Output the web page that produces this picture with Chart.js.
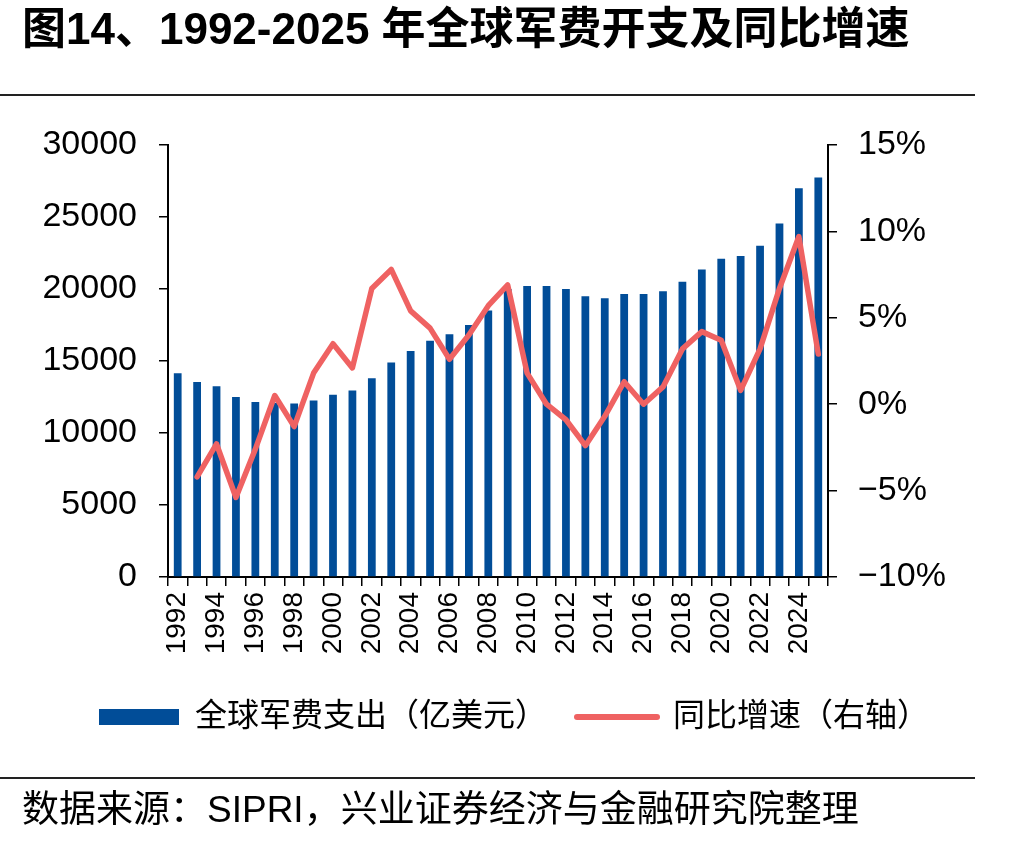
<!DOCTYPE html>
<html>
<head>
<meta charset="utf-8">
<script src="https://cdn.jsdelivr.net/npm/chart.js@4"></script>
<style>
  html, body { margin: 0; padding: 0; background: #fff; }
  #wrap { position: relative; width: 1028px; height: 843px; overflow: hidden; }
  #chart { position: absolute; left: 0; top: 0; }
  #title { position: absolute; left: 22px; top: 1px; line-height: 56px; font-size: 44px; font-weight: bold;
           font-family: "Liberation Sans", "Noto Sans CJK SC", sans-serif; color: #000; white-space: nowrap; }
  .rule { position: absolute; left: 0; width: 975px; height: 2px; background: #222; }
  #source { position: absolute; left: 22px; top: 788px; line-height: 44px; font-size: 37px;
            font-family: "Liberation Sans", "Noto Sans CJK SC", sans-serif; color: #000; white-space: nowrap; }
</style>
</head>
<body>
<div id="wrap">
  <canvas id="chart" width="1028" height="843"></canvas>
  <div id="title">图14、1992-2025 年全球军费开支及同比增速</div>
  <div class="rule" style="top:94px"></div>
  <div class="rule" style="top:777px"></div>
  <div id="source">数据来源：SIPRI，兴业证券经济与金融研究院整理</div>
</div>
<script>
// 年份
const years = ['1992','1993','1994','1995','1996','1997','1998','1999','2000','2001',
  '2002','2003','2004','2005','2006','2007','2008','2009','2010','2011',
  '2012','2013','2014','2015','2016','2017','2018','2019','2020','2021',
  '2022','2023','2024','2025'];

// 全球军费支出（亿美元）
const spending = [14150, 13550, 13250, 12500, 12150, 12100, 12050, 12250, 12650, 12950,
  13800, 14900, 15700, 16400, 16850, 17500, 18500, 20000, 20200, 20200,
  20000, 19500, 19350, 19650, 19650, 19850, 20500, 21350, 22100, 22300,
  23000, 24550, 27000, 27750];

// 同比增速（%），1992 无数据
const growth = [null, -4.2, -2.3, -5.4, -2.6, 0.5, -1.3, 1.8, 3.5, 2.1,
  6.7, 7.8, 5.4, 4.4, 2.6, 4.0, 5.7, 6.9, 1.8, 0.0,
  -0.9, -2.4, -0.7, 1.3, 0.0, 1.0, 3.2, 4.2, 3.7, 0.8,
  3.2, 6.7, 9.7, 2.9];

const seriesNames = ['全球军费支出（亿美元）', '同比增速（右轴）'];

const FONT = '"Liberation Sans", "Noto Sans CJK SC", sans-serif';
const BLUE = '#014D98';
const RED = '#EF6262';

Chart.defaults.font.family = FONT;
Chart.defaults.color = '#000';

new Chart(document.getElementById('chart'), {
  data: {
    labels: years,
    datasets: [
      {
        type: 'bar',
        label: seriesNames[0],
        data: spending,
        backgroundColor: BLUE,
        barPercentage: 0.4,
        categoryPercentage: 1.0,
        yAxisID: 'y',
        order: 2
      },
      {
        type: 'line',
        label: seriesNames[1],
        data: growth,
        borderColor: RED,
        backgroundColor: RED,
        borderWidth: 5.5,
        pointRadius: 0,
        tension: 0,
        borderCapStyle: 'round',
        borderJoinStyle: 'round',
        yAxisID: 'y1',
        order: 1
      }
    ]
  },
  options: {
    responsive: false,
    animation: false,
    layout: { padding: { top: 145, left: 0, right: 0, bottom: 100 } },
    scales: {
      x: {
        offset: true,
        grid: { offset: true, drawOnChartArea: false, tickLength: 9, color: '#000', lineWidth: 1.5 },
        border: { color: '#000', width: 2 },
        ticks: {
          autoSkip: false, minRotation: 90, maxRotation: 90, padding: 6,
          font: { size: 28 }, color: '#000',
          callback: function (v, i) { return i % 2 === 0 ? this.getLabelForValue(v) : ''; }
        },
        afterFit: s => { s.height = 94; }
      },
      y: {
        position: 'left',
        min: 0, max: 30000,
        grid: { drawOnChartArea: false, tickLength: 9, color: '#000', lineWidth: 1.5 },
        border: { color: '#000', width: 2 },
        ticks: { stepSize: 5000, padding: 22, font: { size: 34 }, color: '#000', callback: v => String(v) },
        afterFit: s => { s.width = 168; }
      },
      y1: {
        position: 'right',
        min: -10, max: 15,
        grid: { drawOnChartArea: false, tickLength: 9, color: '#000', lineWidth: 1.5 },
        border: { color: '#000', width: 2 },
        ticks: {
          stepSize: 5, padding: 21, font: { size: 34 }, color: '#000',
          callback: v => (v < 0 ? '\u2212' + Math.abs(v) : v) + '%'
        },
        afterFit: s => { s.width = 200; }
      }
    },
    plugins: {
      tooltip: { enabled: false },
      legend: {
        position: 'bottom',
        labels: {
          usePointStyle: true,
          pointStyleWidth: 80,
          boxHeight: 16,
          padding: 30,
          color: '#000',
          font: { size: 32 },
          generateLabels: chart => chart.data.datasets.map((ds, i) => ({
            text: ds.label,
            datasetIndex: i,
            fillStyle: ds.type === 'bar' ? BLUE : 'rgba(0,0,0,0)',
            strokeStyle: ds.type === 'bar' ? BLUE : RED,
            lineWidth: ds.type === 'bar' ? 0 : 6,
            lineCap: 'round',
            pointStyle: ds.type === 'bar' ? 'rect' : 'line',
            hidden: false
          }))
        }
      }
    }
  }
});
</script>
</body>
</html>
